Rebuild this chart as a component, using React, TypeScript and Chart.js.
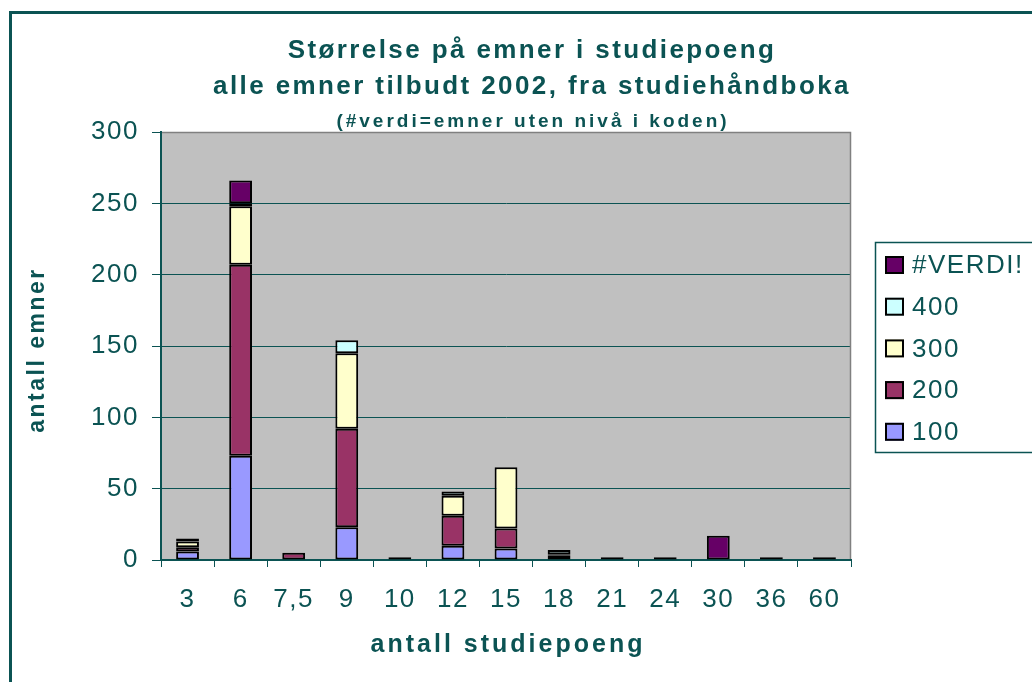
import React, { useEffect, useRef } from 'react';
import { Chart, registerables } from 'chart.js';

Chart.register(...registerables);

const categories = ['3', '6', '7,5', '9', '10', '12', '15', '18', '21', '24', '30', '36', '60'];
const level100 = [6, 73, null, 23, null, 10, 8, 3, null, null, null, null, null];
const level200 = [3, 134, 5, 69, 2, 21, 14, 1, 2, 2, null, 2, 2];
const level300 = [4, 41, null, 53, null, 14, 43, null, null, null, null, null, null];
const level400 = [2, 2, null, 9, null, 3, null, 3, null, null, null, null, null];
const levelVerdi = [null, 16, null, null, null, null, null, null, null, null, 17, null, null];
const seriesLabels = ['100', '200', '300', '400', '#VERDI!'];
const seriesColors = ['#9999FF', '#993366', '#FFFFCC', '#CCFFFF', '#660066'];
const titleLines = ['Størrelse på emner i studiepoeng', 'alle emner tilbudt 2002, fra studiehåndboka'];
const subtitleText = '(#verdi=emner uten nivå i koden)';
const xTitle = 'antall studiepoeng';
const yTitle = 'antall emner';

const TEAL = '#0b5353';
const FAMILY = '"Liberation Sans", Arial, sans-serif';

const decor = {
  id: 'decor',
  beforeDraw(chart: any) {
    const { ctx, chartArea: a } = chart;
    ctx.save();
    ctx.fillStyle = '#ffffff';
    ctx.fillRect(0, 0, chart.width, chart.height);
    ctx.fillStyle = '#c0c0c0';
    ctx.fillRect(a.left, a.top, a.right - a.left, a.bottom - a.top);
    ctx.restore();
    ctx.letterSpacing = '1.5px';
  },
  afterDraw(chart: any) {
    const { ctx, chartArea: a } = chart;
    ctx.save();
    // plot frame top/right
    ctx.strokeStyle = '#808080';
    ctx.lineWidth = 1.5;
    ctx.beginPath();
    ctx.moveTo(a.left + 1, a.top + 0.5);
    ctx.lineTo(a.right - 0.5, a.top + 0.5);
    ctx.lineTo(a.right - 0.5, a.bottom - 1);
    ctx.stroke();

    // outer chart border
    ctx.strokeStyle = TEAL;
    ctx.lineWidth = 3;
    ctx.strokeRect(10.5, 12.5, chart.width + 40, chart.height + 40);

    ctx.fillStyle = TEAL;
    ctx.textAlign = 'center';
    ctx.textBaseline = 'middle';
    ctx.font = `bold 26px ${FAMILY}`;
    ctx.letterSpacing = '2.4px';
    ctx.fillText(titleLines[0], 532, 51);
    ctx.fillText(titleLines[1], 532, 87);
    ctx.font = `bold 19px ${FAMILY}`;
    ctx.letterSpacing = '3px';
    ctx.fillText(subtitleText, 533, 122);

    // axis titles
    ctx.font = `bold 25px ${FAMILY}`;
    ctx.letterSpacing = '3px';
    ctx.fillText(xTitle, (a.left + a.right) / 2 + 2, 645);
    ctx.save();
    ctx.translate(38, (a.top + a.bottom) / 2 + 4);
    ctx.rotate(-Math.PI / 2);
    ctx.font = `bold 23px ${FAMILY}`;
    ctx.letterSpacing = '2.5px';
    ctx.fillText(yTitle, 0, 0);
    ctx.restore();

    // legend
    ctx.strokeStyle = TEAL;
    ctx.lineWidth = 1.5;
    ctx.strokeRect(875.5, 242.5, 300, 210);
    const ds = chart.data.datasets;
    ctx.textAlign = 'left';
    ctx.font = `26px ${FAMILY}`;
    ctx.letterSpacing = '1.5px';
    let row = 0;
    for (let i = ds.length - 1; i >= 0; i--) {
      const cy = 265 + row * 41.7;
      ctx.fillStyle = ds[i].backgroundColor;
      ctx.fillRect(885, cy - 9, 19, 18);
      ctx.strokeStyle = '#000';
      ctx.lineWidth = 2;
      ctx.strokeRect(886, cy - 8, 17, 16);
      ctx.fillStyle = TEAL;
      ctx.fillText(ds[i].label, 912, cy + 1);
      row++;
    }
    ctx.restore();
  },
};

export default function App() {
  const ref = useRef<HTMLCanvasElement>(null);
  useEffect(() => {
    if (!ref.current) return;
    const series = [level100, level200, level300, level400, levelVerdi];
    const chart = new Chart(ref.current, {
      type: 'bar',
      data: {
        labels: categories,
        datasets: series.map((d, i) => ({
          label: seriesLabels[i],
          data: d,
          backgroundColor: seriesColors[i],
          borderColor: '#000000',
          borderWidth: 2,
          borderSkipped: false,
          barPercentage: 0.43,
          categoryPercentage: 1,
        })),
      },
      options: {
        animation: false,
        responsive: false,
        maintainAspectRatio: false,
        layout: { padding: { left: 0, top: 132, right: 181, bottom: 0 } },
        plugins: {
          legend: { display: false },
          title: { display: false },
          tooltip: { enabled: false },
        },
        scales: {
          x: {
            stacked: true,
            grid: {
              display: true,
              drawOnChartArea: false,
              drawTicks: true,
              tickLength: 7,
              color: TEAL,
              lineWidth: 1,
              offset: true,
            },
            border: { display: true, color: TEAL, width: 2 },
            ticks: {
              color: TEAL,
              font: { family: FAMILY, size: 26 },
              padding: 17,
              maxRotation: 0,
              autoSkip: false,
            },
            afterFit(scale: any) {
              scale.height = 122;
            },
          },
          y: {
            stacked: true,
            min: 0,
            max: 300,
            ticks: {
              stepSize: 50,
              color: TEAL,
              font: { family: FAMILY, size: 26 },
              padding: 13,
            },
            grid: { color: TEAL, lineWidth: 1, tickLength: 9, drawTicks: true },
            border: { display: true, color: TEAL, width: 2 },
            afterFit(scale: any) {
              scale.width = 161;
            },
          },
        },
      },
      plugins: [decor],
    } as any);
    return () => chart.destroy();
  }, []);
  return (
    <div style={{ position: 'fixed', left: 0, top: 0, width: 1032, height: 682, background: '#fff' }}>
      <canvas ref={ref} width={1032} height={682} style={{ display: 'block', width: 1032, height: 682 }} />
    </div>
  );
}
